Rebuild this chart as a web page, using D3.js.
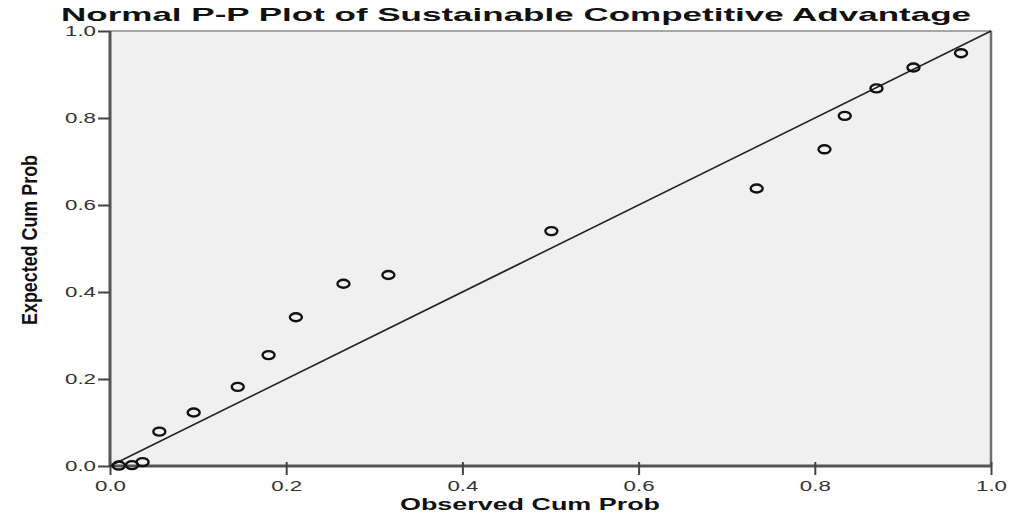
<!DOCTYPE html>
<html>
<head>
<meta charset="utf-8">
<script src="https://cdn.jsdelivr.net/npm/d3@7"></script>
<style>
  body { margin: 0; background: #fff; }
  svg text { font-family: "Liberation Sans", Arial, sans-serif; }
</style>
</head>
<body>
<svg id="chart"></svg>
<script>
// observed vs expected cumulative probabilities
var observed = [0.010, 0.025, 0.037, 0.056, 0.095, 0.145, 0.180, 0.211, 0.265, 0.316,
                0.501, 0.734, 0.811, 0.834, 0.870, 0.912, 0.966];
var expected = [0.001, 0.002, 0.009, 0.079, 0.123, 0.182, 0.255, 0.342, 0.419, 0.439,
                0.540, 0.638, 0.728, 0.805, 0.868, 0.916, 0.949];
var ticks = [0, 0.2, 0.4, 0.6, 0.8, 1.0];

var width = 1013
  , height = 516
  , margin = { top: 31, left: 110, right: 22, bottom: 50 }
  , svg = d3.select("#chart").attr("width", width).attr("height", height)
;

var x = d3.scaleLinear().domain([0, 1]).range([margin.left, width - margin.right]);
var y = d3.scaleLinear().domain([0, 1]).range([height - margin.bottom, margin.top]);

// plot background + frame
svg.append("rect")
    .attr("x", x(0)).attr("y", y(1))
    .attr("width", x(1) - x(0)).attr("height", y(0) - y(1))
    .attr("fill", "#f0f0f0");

svg.append("line") // top
    .attr("x1", x(0)).attr("x2", x(1)).attr("y1", y(1)).attr("y2", y(1))
    .attr("stroke", "#8c8c8c").attr("stroke-width", 1.5);
svg.append("line") // right
    .attr("x1", x(1)).attr("x2", x(1)).attr("y1", y(1)).attr("y2", y(0))
    .attr("stroke", "#707070").attr("stroke-width", 2.5);

// axes
var xAxis = svg.append("g")
    .attr("transform", "translate(0," + y(0) + ")")
    .call(d3.axisBottom(x).tickValues(ticks).tickFormat(d3.format(".1f")).tickSize(9).tickPadding(6));
var yAxis = svg.append("g")
    .attr("transform", "translate(" + x(0) + ",0)")
    .call(d3.axisLeft(y).tickValues(ticks).tickFormat(d3.format(".1f")).tickSize(12).tickPadding(2));

[xAxis, yAxis].forEach(function(g) {
    g.select(".domain").attr("stroke", "#555").attr("stroke-width", 3);
    g.selectAll(".tick line").attr("stroke", "#444").attr("stroke-width", 2);
    g.selectAll(".tick text")
        .attr("fill", "#333")
        .style("font-size", "14px")
        .attr("textLength", 31)
        .attr("lengthAdjust", "spacingAndGlyphs");
});
xAxis.select(".domain").attr("d", "M" + x(0) + ",0H" + x(1));
yAxis.select(".domain").attr("d", "M0," + y(0) + "V" + y(1));
xAxis.selectAll(".tick line").attr("y1", -4);

// reference diagonal
svg.append("line")
    .attr("x1", x(0)).attr("y1", y(0)).attr("x2", x(1)).attr("y2", y(1))
    .attr("stroke", "#222").attr("stroke-width", 1.6);

// points
svg.append("g").selectAll("ellipse")
    .data(observed.map(function(d, i) { return [d, expected[i]]; }))
  .enter().append("ellipse")
    .attr("cx", function(d) { return x(d[0]); })
    .attr("cy", function(d) { return y(d[1]); })
    .attr("rx", 6).attr("ry", 4)
    .attr("fill", "none")
    .attr("stroke", "#111")
    .attr("stroke-width", 2.4);

// titles
svg.append("text")
    .attr("x", 61).attr("y", 21)
    .attr("textLength", 910).attr("lengthAdjust", "spacingAndGlyphs")
    .style("font-size", "19px").style("font-weight", "bold")
    .attr("fill", "#111")
    .text("Normal P-P Plot of Sustainable Competitive Advantage");

svg.append("text")
    .attr("x", 400).attr("y", 510)
    .attr("textLength", 260).attr("lengthAdjust", "spacingAndGlyphs")
    .style("font-size", "17px").style("font-weight", "bold")
    .attr("fill", "#111")
    .text("Observed Cum Prob");

svg.append("text")
    .attr("transform", "translate(37,325) rotate(-90)")
    .attr("textLength", 170).attr("lengthAdjust", "spacingAndGlyphs")
    .style("font-size", "22px").style("font-weight", "bold")
    .attr("fill", "#111")
    .text("Expected Cum Prob");
</script>
</body>
</html>
